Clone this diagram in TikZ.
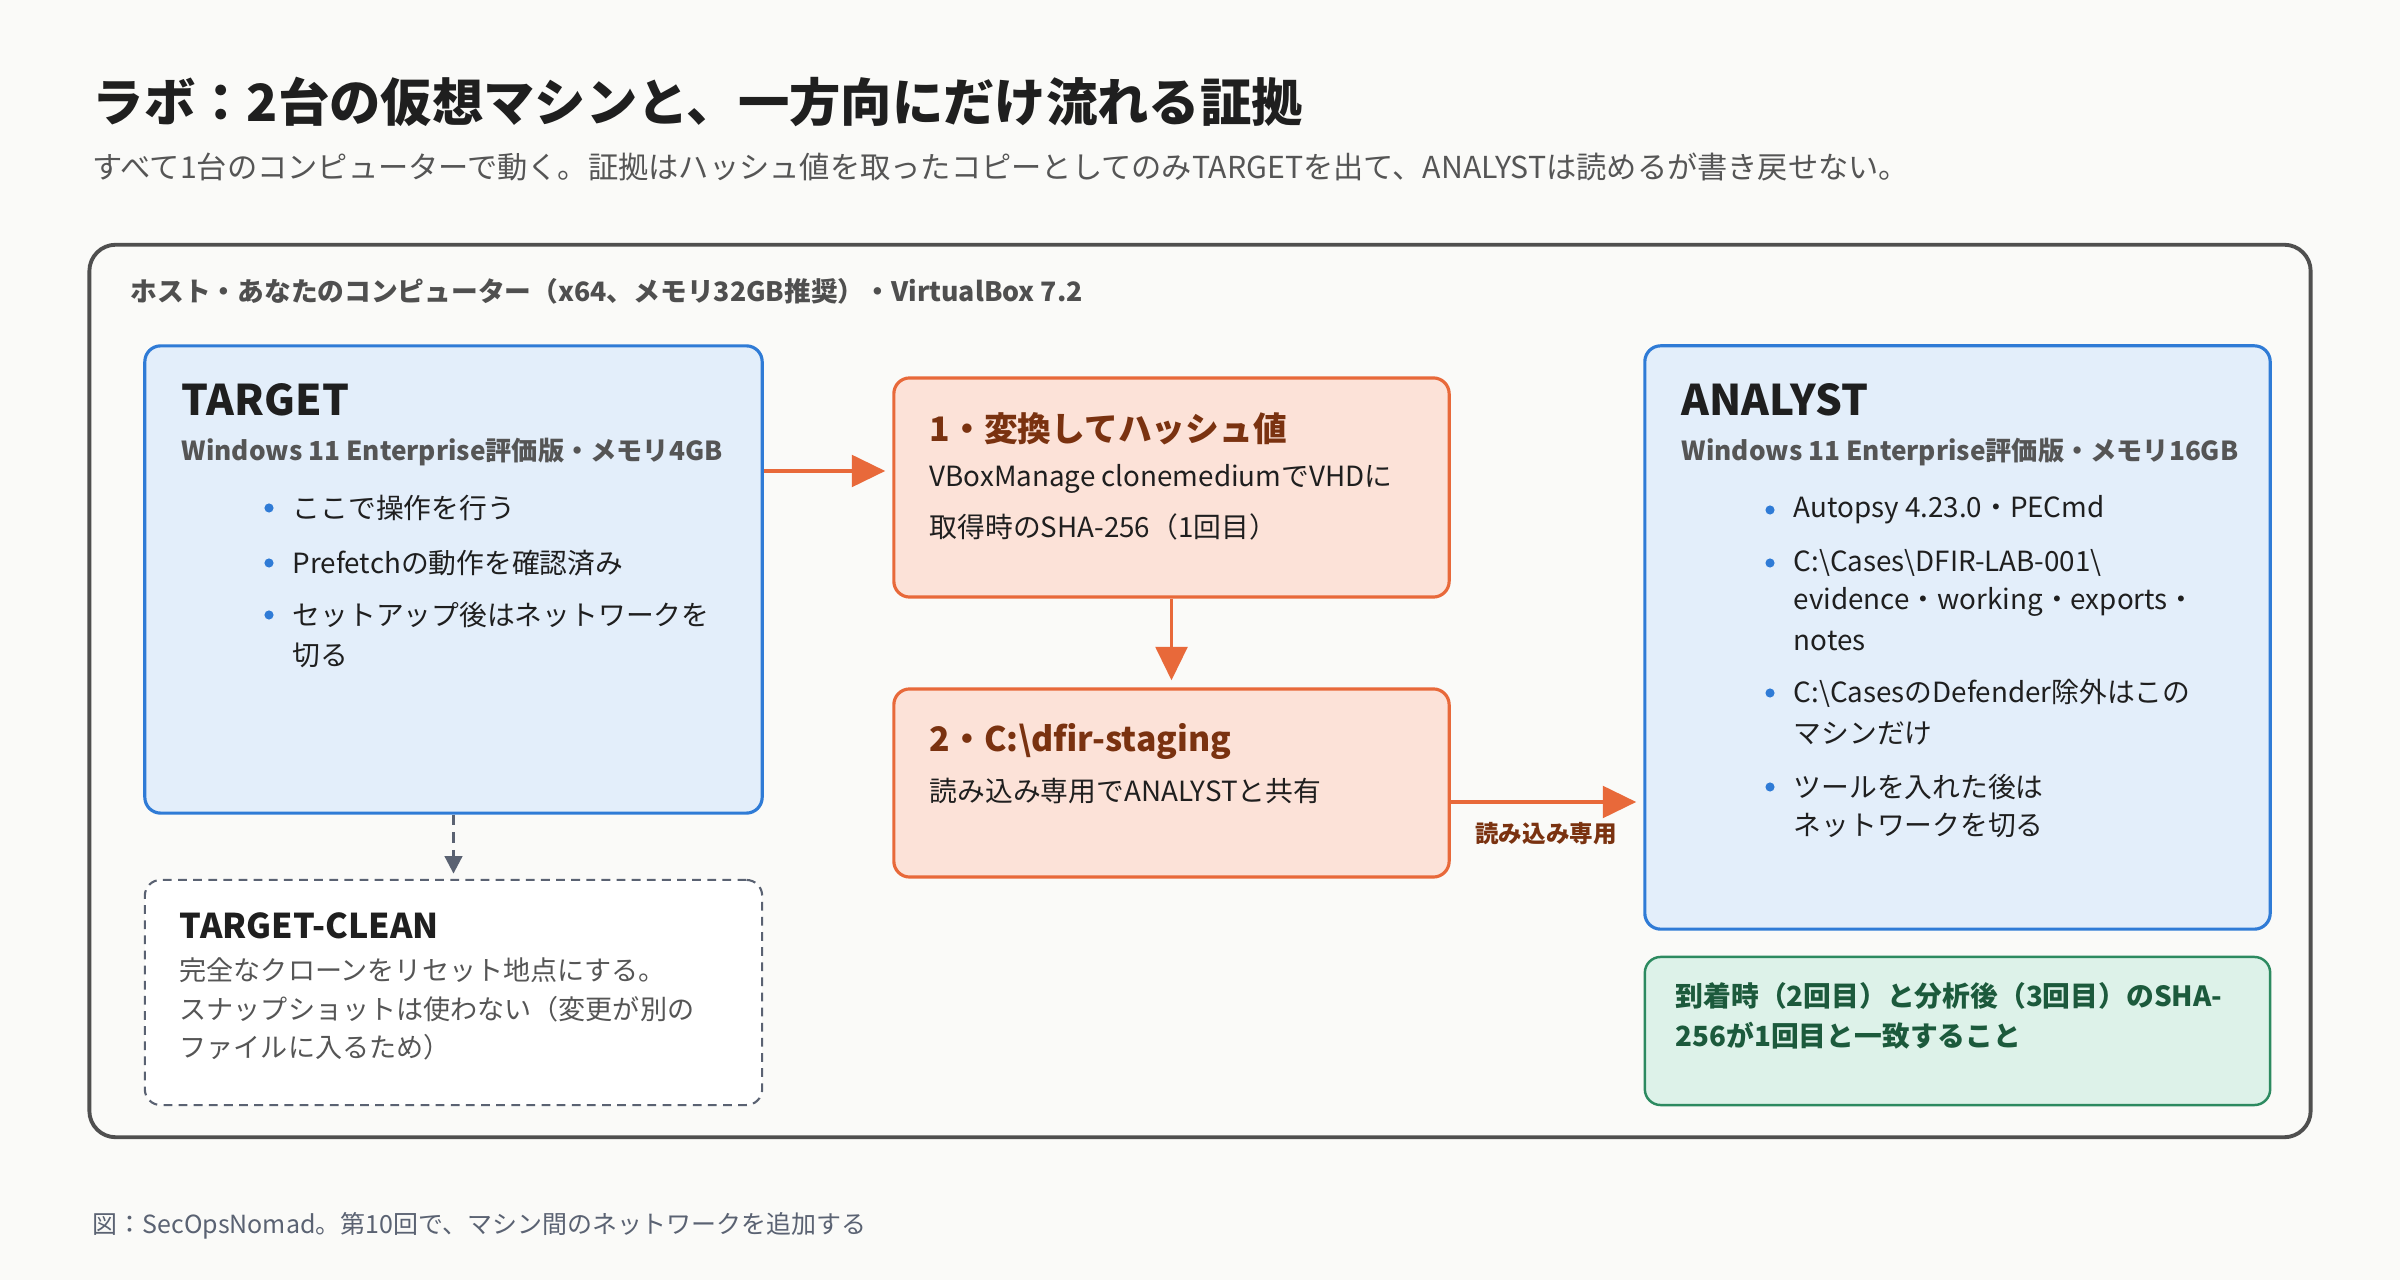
\documentclass[tikz,border=0pt]{standalone}
\usepackage{fontspec}
\setmainfont{Noto Sans CJK JP}
\usepackage{tikz}
\usetikzlibrary{arrows.meta}
\definecolor{paper}{HTML}{FAFAF8}
\definecolor{hostbd}{HTML}{4F4F4F}
\definecolor{vmbd}{HTML}{2F7BD6}
\definecolor{vmfill}{HTML}{E3EEFA}
\definecolor{stepbd}{HTML}{E8693A}
\definecolor{stepfill}{HTML}{FCE2D8}
\definecolor{steptxt}{HTML}{7A3210}
\definecolor{okbd}{HTML}{2C8A60}
\definecolor{okfill}{HTML}{DDF2E9}
\definecolor{oktxt}{HTML}{1C5A3C}
\definecolor{ink}{HTML}{1F1F1F}
\definecolor{muted}{HTML}{555555}
\definecolor{slate}{HTML}{5A6272}
\tikzset{>={Triangle[length=9.5pt,width=9pt]}}
\tikzset{
  hostbox/.style={draw=hostbd,line width=1.1pt,rounded corners=7.5pt,inner sep=0pt},
  vmbox/.style={draw=vmbd,fill=vmfill,line width=0.9pt,rounded corners=4.5pt,inner sep=0pt},
  stepbox/.style={draw=stepbd,fill=stepfill,line width=0.9pt,rounded corners=4.5pt,inner sep=0pt},
  cleanbox/.style={draw=slate,fill=white,line width=0.6pt,dash pattern=on 2.5pt off 1.8pt,rounded corners=4.5pt,inner sep=0pt},
  okbox/.style={draw=okbd,fill=okfill,line width=0.7pt,rounded corners=4.5pt,inner sep=0pt},
  txt/.style={anchor=west,inner sep=0pt},
  body/.style={txt,text=ink,font=\fontsize{7.9pt}{9.5pt}\selectfont},
  note/.style={txt,text=muted,font=\fontsize{7.7pt}{9.5pt}\selectfont},
  vmhead/.style={txt,text=ink,font=\fontsize{12pt}{14pt}\selectfont\bfseries},
  vmsub/.style={txt,text=muted,font=\fontsize{7.45pt}{9pt}\selectfont\bfseries},
  stephead/.style={txt,text=steptxt,font=\fontsize{9.6pt}{12pt}\selectfont\bfseries},
  flow/.style={->,draw=stepbd,line width=1pt,shorten >=2pt},
  resetflow/.style={-{Triangle[length=5pt,width=5pt]},draw=slate,line width=0.8pt,dash pattern=on 3pt off 2pt,shorten >=1.5pt}
}
\newcommand{\bulletat}[4]{%
  \fill[vmbd] (#1,#2) circle (1.3pt);
  \node[body] (#3) at ({#1+23},#2) {#4};
}

\begin{document}
\begin{tikzpicture}[x=0.01cm,y=-0.01cm]
\fill[paper] (0,0) rectangle (2400,1280);
\useasboundingbox (0,0) rectangle (2400,1280);
% heading
\node[txt,text=ink,font=\fontsize{14.6pt}{17pt}\selectfont\bfseries] (title) at (92,102) {ラボ：2台の仮想マシンと、一方向にだけ流れる証拠};
\node[txt,text=muted,font=\fontsize{8.6pt}{11pt}\selectfont] (lede) at (92,167) {すべて1台のコンピューターで動く。証拠はハッシュ値を取ったコピーとしてのみTARGETを出て、ANALYSTは読めるが書き戻せない。};
% host
\node[hostbox,minimum width=22.2cm,minimum height=8.92cm] (host) at (1200,691) {};
\node[txt,text=hostbd,font=\fontsize{7.6pt}{9pt}\selectfont\bfseries] (hostlbl) at (130,291) {ホスト・あなたのコンピューター（x64、メモリ32GB推奨）・VirtualBox 7.2};
% boxes
\node[vmbox,minimum width=6.17cm,minimum height=4.67cm] (target) at (453.5,579.5) {};
\node[cleanbox,minimum width=6.17cm,minimum height=2.25cm] (clean) at (453.5,992.5) {};
\node[stepbox,minimum width=5.55cm,minimum height=2.19cm] (s1) at (1171.5,487.5) {};
\node[stepbox,minimum width=5.55cm,minimum height=1.88cm] (s2) at (1171.5,783) {};
\node[vmbox,minimum width=6.25cm,minimum height=5.83cm] (analyst) at (1957.5,637.5) {};
\node[okbox,minimum width=6.25cm,minimum height=1.48cm] (check) at (1957.5,1031) {};
% TARGET
\node[vmhead] (tname) at (181,400) {TARGET};
\node[vmsub] (tspec) at (181,452) {Windows 11 Enterprise評価版・メモリ4GB};
\bulletat{269}{508}{tb1}{ここで操作を行う}
\bulletat{269}{563}{tb2}{Prefetchの動作を確認済み}
\bulletat{269}{615}{tb3}{セットアップ後はネットワークを}
\node[body] (tb3w) at (292,655) {切る};
% TARGET-CLEAN
\node[txt,text=ink,font=\fontsize{9.7pt}{12pt}\selectfont\bfseries] (cname) at (179,926) {TARGET-CLEAN};
\node[note] (cl1) at (179,970) {完全なクローンをリセット地点にする。};
\node[note] (cl2) at (179,1009) {スナップショットは使わない（変更が別の};
\node[note] (cl3) at (179,1047) {ファイルに入るため）};
% steps
\node[stephead] (s1name) at (929,429) {1・変換してハッシュ値};
\node[body] (s1a) at (929,479) {VBoxManage clonemediumでVHDに};
\node[body] (s1b) at (929,527) {取得時のSHA-256（1回目）};
\node[stephead] (s2name) at (929,742) {2・C:\textbackslash dfir-staging};
\node[body] (s2a) at (929,791) {読み込み専用でANALYSTと共有};
% ANALYST
\node[vmhead] (aname) at (1681,400) {ANALYST};
\node[vmsub] (aspec) at (1681,452) {Windows 11 Enterprise評価版・メモリ16GB};
\bulletat{1770}{510}{ab1}{Autopsy 4.23.0・PECmd}
\bulletat{1770}{563}{ab2}{C:\textbackslash Cases\textbackslash DFIR-LAB-001\textbackslash}
\node[body] (ab2w) at (1793,602) {evidence・working・exports・};
\node[body] (ab2x) at (1793,641) {notes};
\bulletat{1770}{693}{ab3}{C:\textbackslash CasesのDefender除外はこの}
\node[body] (ab3w) at (1793,733) {マシンだけ};
\bulletat{1770}{787}{ab4}{ツールを入れた後は}
\node[body] (ab4w) at (1793,825) {ネットワークを切る};
% hash check
\node[txt,text=oktxt,font=\fontsize{7.9pt}{9.5pt}\selectfont\bfseries] (ck1) at (1675,996) {到着時（2回目）と分析後（3回目）のSHA-};
\node[txt,text=oktxt,font=\fontsize{7.9pt}{9.5pt}\selectfont\bfseries] (ck2) at (1675,1036) {256が1回目と一致すること};
% connectors
\coordinate (lvl1) at (0,471);
\coordinate (lvl2) at (0,802);
\draw[flow] (lvl1 -| target.east) -- (lvl1 -| s1.west);
\draw[flow] (s1.south) -- (s2.north);
\draw[flow] (lvl2 -| s2.east) -- (lvl2 -| analyst.west);
\node[text=steptxt,font=\fontsize{6.7pt}{8pt}\selectfont\bfseries,inner sep=0pt] (rolbl) at (1546,834) {読み込み専用};
\draw[resetflow] (target.south) -- (clean.north);
% footer
\node[txt,text=slate,font=\fontsize{7.1pt}{9pt}\selectfont] (credit) at (92,1226) {図：SecOpsNomad。第10回で、マシン間のネットワークを追加する};
\end{tikzpicture}
\end{document}
